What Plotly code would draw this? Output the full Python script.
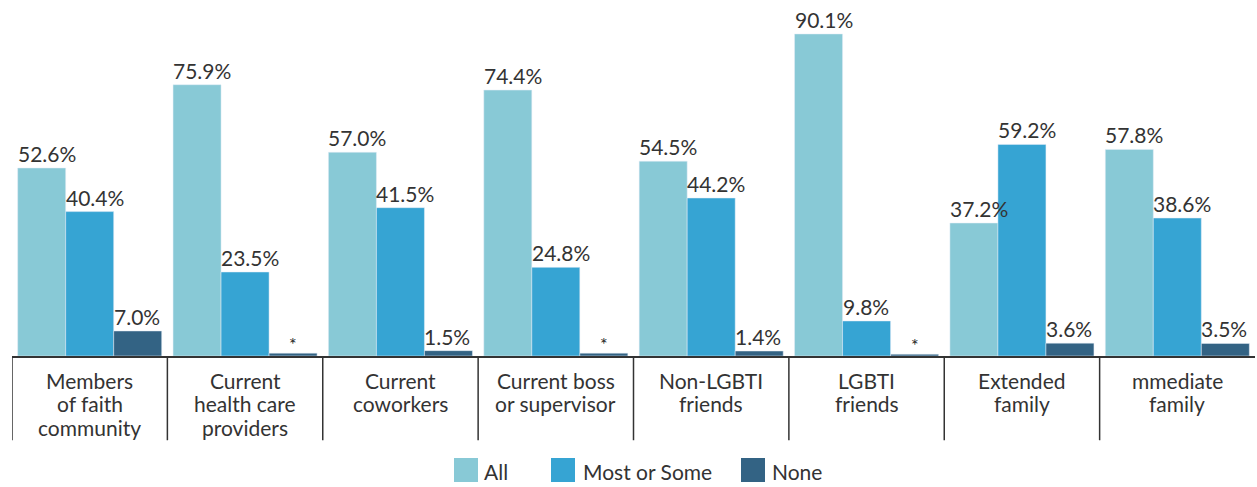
import plotly.graph_objects as go

categories = ["Members of faith community", "Current health care providers",
              "Current coworkers", "Current boss or supervisor", "Non-LGBTI friends",
              "LGBTI friends", "Extended family", "mmediate family"]
category_lines = [["Members", "of faith", "community"], ["Current", "health care", "providers"],
                  ["Current", "coworkers"], ["Current boss", "or supervisor"], ["Non-LGBTI", "friends"],
                  ["LGBTI", "friends"], ["Extended", "family"], ["mmediate", "family"]]
all_vals = [52.6, 75.9, 57.0, 74.4, 54.5, 90.1, 37.2, 57.8]
most_vals = [40.4, 23.5, 41.5, 24.8, 44.2, 9.8, 59.2, 38.6]
none_vals = [7.0, 0.8, 1.5, 0.8, 1.4, 0.5, 3.6, 3.5]
all_labels = ["52.6%", "75.9%", "57.0%", "74.4%", "54.5%", "90.1%", "37.2%", "57.8%"]
most_labels = ["40.4%", "23.5%", "41.5%", "24.8%", "44.2%", "9.8%", "59.2%", "38.6%"]
none_labels = ["7.0%", "*", "1.5%", "*", "1.4%", "*", "3.6%", "3.5%"]

series_names = ["All", "Most or Some", "None"]
colors = ["#88C9D6", "#36A4D3", "#336384"]

FONT = "Lato, 'Open Sans', sans-serif"
TXT = "#333333"

W, H = 1257, 487
ML, MR, MT, MB = 12, 2, 5, 131
PW, PH = W - ML - MR, H - MT - MB
BARGAP = 0.073
BAR_PX = PW / len(categories) * (1 - BARGAP) / 3


def px_x(px):
    return (px - ML) / PW


def px_y(py):
    return (MT + PH - py) / PH


fig = go.Figure()
annotations = []
series = [(series_names[0], all_vals, colors[0], all_labels),
          (series_names[1], most_vals, colors[1], most_labels),
          (series_names[2], none_vals, colors[2], none_labels)]
for j, (name, vals, col, labels) in enumerate(series):
    fig.add_trace(go.Bar(
        x=categories, y=vals, name=name, marker_color=col,
        cliponaxis=False, hoverinfo="skip", showlegend=False,
    ))
    # value labels: left-aligned with the bar's left edge (stars centred)
    left_off = (j - 1.5) * BAR_PX
    for cat, v, lab in zip(categories, vals, labels):
        if lab == "*":
            annotations.append(dict(xref="x", yref="y", x=cat, y=v, xanchor="center",
                                    yanchor="bottom", xshift=left_off + BAR_PX / 2, yshift=-4,
                                    text=lab, showarrow=False,
                                    font=dict(size=18, color="#222222", family=FONT)))
        else:
            annotations.append(dict(xref="x", yref="y", x=cat, y=v, xanchor="left",
                                    yanchor="bottom", xshift=left_off - 2, yshift=0,
                                    text=lab, showarrow=False,
                                    font=dict(size=21, color=TXT, family=FONT)))

shapes = []
for i in range(len(categories)):
    shapes.append(dict(type="line", xref="x", yref="paper", x0=i - 0.5, x1=i - 0.5,
                       y0=0, y1=-0.24, line=dict(color="#333333", width=1.5)))

# category labels, one annotation per line for tighter line spacing
for cat, lines in zip(categories, category_lines):
    for k, line in enumerate(lines):
        annotations.append(dict(xref="x", yref="paper", x=cat, y=0, yanchor="middle",
                                xanchor="center", yshift=-24 - 23.5 * k, text=line,
                                showarrow=False, font=dict(size=21, color=TXT, family=FONT)))

# manual legend (swatches + labels)
legend_items = [(454, 482), (551, 581), (741, 770)]
for (sx, tx), name, col in zip(legend_items, series_names, colors):
    shapes.append(dict(type="rect", xref="paper", yref="paper",
                       x0=px_x(sx), x1=px_x(sx + 24), y0=px_y(482), y1=px_y(458),
                       fillcolor=col, line=dict(width=0)))
    annotations.append(dict(xref="paper", yref="paper", x=px_x(tx), y=px_y(472),
                            xanchor="left", yanchor="middle", text=name, showarrow=False,
                            font=dict(size=21, color=TXT, family=FONT)))

fig.update_layout(
    width=W, height=H,
    margin=dict(l=ML, r=MR, t=MT, b=MB),
    barmode="group", bargap=BARGAP, bargroupgap=0,
    plot_bgcolor="white", paper_bgcolor="white",
    font=dict(family=FONT, size=21, color=TXT),
    shapes=shapes, annotations=annotations,
    showlegend=False,
    xaxis=dict(showline=True, linecolor="#333333", linewidth=1.5, ticks="",
               showticklabels=False, automargin=False,
               range=[-0.5, len(categories) - 0.5]),
    yaxis=dict(visible=False, range=[0, 98.2], automargin=False),
)

fig.write_html("out.html", config={"displayModeBar": False},
               post_script="document.body.style.margin='0';document.body.style.overflow='hidden';")
